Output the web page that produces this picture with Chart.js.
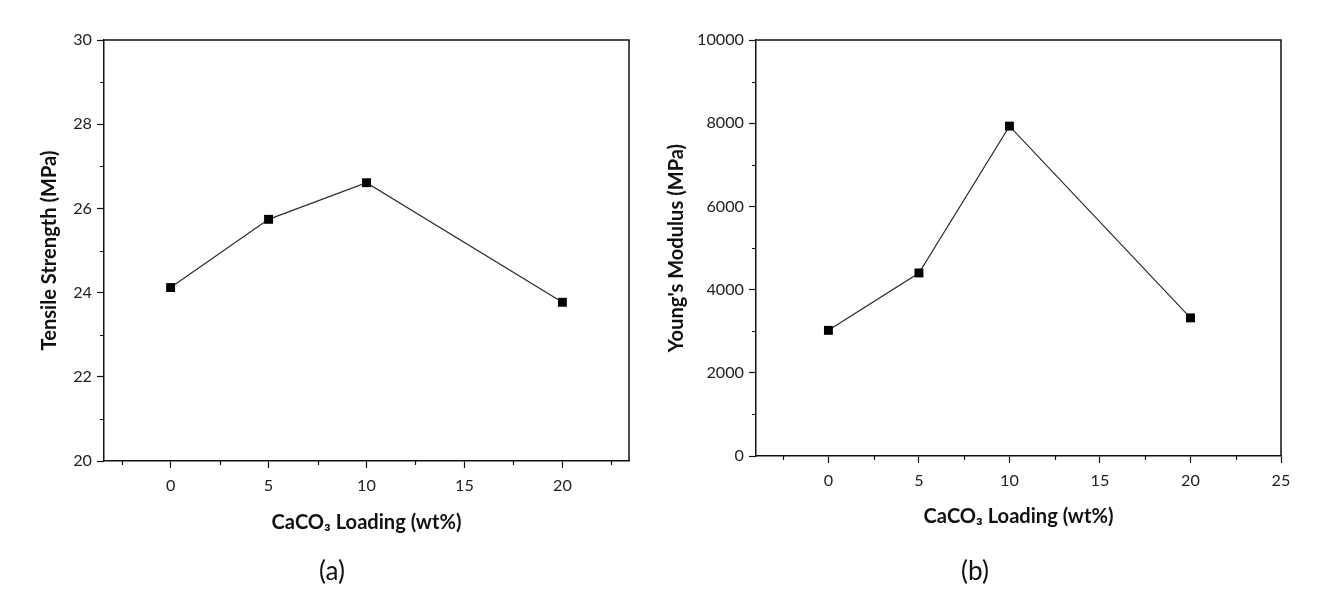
<!DOCTYPE html>
<html>
<head>
<meta charset="utf-8">
<script src="https://cdn.jsdelivr.net/npm/chart.js@4.4.1/dist/chart.umd.min.js"></script>
<style>
  body { margin: 0; background: #fff; }
  #wrap { position: relative; width: 1320px; height: 613px; overflow: hidden; font-family: Lato, sans-serif; }
  .panel { position: absolute; top: 0; width: 660px; height: 613px; }
  .cap { position: absolute; color: #111; transform: translate(-50%, -50%); line-height: 1; }
</style>
</head>
<body>
<div id="wrap">
  <div class="panel" style="left:0"><canvas id="tensileChart" width="660" height="613"></canvas></div>
  <div class="panel" style="left:660px"><canvas id="modulusChart" width="660" height="613"></canvas></div>
  <div class="cap" id="capA" style="left:332px;top:570px">(a)</div>
  <div class="cap" id="capB" style="left:975px;top:570px">(b)</div>
</div>
<script>
// CaCO3 loading (wt%)
const loading = [0, 5, 10, 20];
const tensileStrength = [24.12, 25.74, 26.61, 23.77];
const youngsModulus = [3020, 4400, 7930, 3320];

const tensileXTicks = [0, 5, 10, 15, 20];
const tensileXMinor = [-2.5, 2.5, 7.5, 12.5, 17.5, 22.5];
const tensileYTicks = [20, 22, 24, 26, 28, 30];
const tensileYMinor = [21, 23, 25, 27, 29];

const modulusXTicks = [0, 5, 10, 15, 20, 25];
const modulusXMinor = [-2.5, 2.5, 7.5, 12.5, 17.5, 22.5];
const modulusYTicks = [0, 2000, 4000, 6000, 8000, 10000];
const modulusYMinor = [1000, 3000, 5000, 7000, 9000];

const xTitle = 'CaCO\u2083 Loading (wt%)';

// pick a font size so a string gets the width it has in the picture
function fitSize(text, weight, target) {
  const c = document.createElement('canvas').getContext('2d');
  c.font = weight + ' 100px Lato';
  return Math.round(1000 * target / c.measureText(text).width) / 10;
}
const titleSize = fitSize(xTitle, 'bold', 190);
const tickSize = fitSize('10000', 'normal', 47);
const capSize = fitSize('(a)', 'normal', 26);
document.getElementById('capA').style.fontSize = capSize + 'px';
document.getElementById('capB').style.fontSize = capSize + 'px';
const lh = titleSize * 1.2;

// frame (top/right) + short minor ticks, origin style
const frameAndMinor = {
  id: 'frameAndMinor',
  afterDraw(chart, args, opts) {
    const { ctx, chartArea, scales } = chart;
    ctx.save();
    ctx.strokeStyle = '#111';
    ctx.lineWidth = 1.5;
    ctx.beginPath();
    ctx.moveTo(chartArea.left, chartArea.top);
    ctx.lineTo(chartArea.right, chartArea.top);
    ctx.lineTo(chartArea.right, chartArea.bottom);
    ctx.stroke();
    ctx.lineWidth = 1.2;
    ctx.beginPath();
    opts.x.forEach(v => {
      const px = Math.round(scales.x.getPixelForValue(v)) + 0.5;
      ctx.moveTo(px, chartArea.bottom);
      ctx.lineTo(px, chartArea.bottom + 4);
    });
    opts.y.forEach(v => {
      const py = Math.round(scales.y.getPixelForValue(v)) + 0.5;
      ctx.moveTo(chartArea.left, py);
      ctx.lineTo(chartArea.left - 4, py);
    });
    ctx.stroke();
    ctx.restore();
  }
};

// s.area = plot box in canvas coords, s.yTitleX / s.xTitleY = title centres
function makeChart(id, values, s) {
  const ctx = document.getElementById(id).getContext('2d');
  const padLeft = Math.max(0, s.yTitleX - 4 - lh / 2);
  const xBottom = s.xTitleY + 4 + lh / 2;
  return new Chart(ctx, {
    type: 'line',
    data: {
      datasets: [{
        data: loading.map((x, i) => ({ x: x, y: values[i] })),
        borderColor: '#2a2a2a',
        borderWidth: 1.2,
        pointStyle: 'rect',
        pointRadius: 6.3,
        pointBackgroundColor: '#000',
        pointBorderColor: '#000',
        pointBorderWidth: 0,
        tension: 0
      }]
    },
    plugins: [frameAndMinor],
    options: {
      responsive: false,
      animation: false,
      layout: { padding: { left: padLeft, top: s.area.top, right: 660 - s.area.right, bottom: 613 - xBottom } },
      plugins: {
        legend: { display: false },
        tooltip: { enabled: false },
        frameAndMinor: { x: s.xMinor, y: s.yMinor }
      },
      scales: {
        x: {
          type: 'linear',
          min: s.xMin,
          max: s.xMax,
          afterBuildTicks: sc => { sc.ticks = s.xTicks.map(v => ({ value: v })); },
          afterFit: sc => { sc.height = xBottom - s.area.bottom; },
          grid: { drawOnChartArea: false, tickLength: 7, tickColor: '#111', tickWidth: 1.2 },
          border: { color: '#111', width: 1.5 },
          ticks: { padding: 8, color: '#222', font: { family: 'Lato', size: tickSize }, callback: v => String(v) },
          title: { display: true, text: xTitle, color: '#111', font: { family: 'Lato', size: titleSize, weight: 'bold' } }
        },
        y: {
          min: s.yMin,
          max: s.yMax,
          afterBuildTicks: sc => { sc.ticks = s.yTicks.map(v => ({ value: v })); },
          afterFit: sc => { sc.width = s.area.left - padLeft; },
          grid: { drawOnChartArea: false, tickLength: 7, tickColor: '#111', tickWidth: 1.2 },
          border: { color: '#111', width: 1.5 },
          ticks: { padding: 5, color: '#222', font: { family: 'Lato', size: tickSize }, callback: v => String(v) },
          title: { display: true, text: s.yTitle, color: '#111', font: { family: 'Lato', size: titleSize, weight: 'bold' } }
        }
      }
    }
  });
}

makeChart('tensileChart', tensileStrength, {
  xMin: -3.4, xMax: 23.4, yMin: 20, yMax: 30,
  xTicks: tensileXTicks, yTicks: tensileYTicks, xMinor: tensileXMinor, yMinor: tensileYMinor,
  yTitle: 'Tensile Strength (MPa)',
  area: { left: 104, top: 40, right: 629, bottom: 461 },
  yTitleX: 50, xTitleY: 523
});

makeChart('modulusChart', youngsModulus, {
  xMin: -4, xMax: 25, yMin: 0, yMax: 10000,
  xTicks: modulusXTicks, yTicks: modulusYTicks, xMinor: modulusXMinor, yMinor: modulusYMinor,
  yTitle: "Young's Modulus (MPa)",
  area: { left: 96, top: 40, right: 621, bottom: 456 },
  yTitleX: 15, xTitleY: 517
});
</script>
</body>
</html>
